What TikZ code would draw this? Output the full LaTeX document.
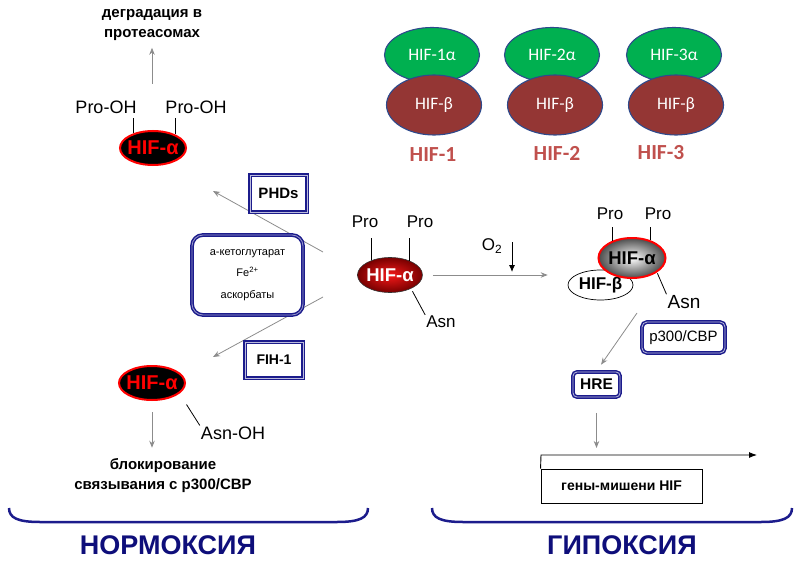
\documentclass[tikz,border=0pt]{standalone}
\usepackage{fontspec}
\setmainfont{Liberation Sans}
\newfontfamily\calfont{Carlito}
\usetikzlibrary{shapes.geometric,arrows.meta,calc}
\definecolor{navy}{HTML}{1C1C8C}
\definecolor{titlenavy}{HTML}{0E0E7A}
\definecolor{hifgreen}{HTML}{00B050}
\definecolor{hifbrown}{HTML}{943634}
\definecolor{hiflabel}{HTML}{C0504D}
\definecolor{ellborder}{HTML}{2E4A8C}
\newcommand\fz[1]{\fontsize{#1}{#1}\selectfont}
\begin{document}
\begin{tikzpicture}[x=1pt,y=-1pt,
  lab/.style={inner sep=1pt, font=\fz{#1}},
  grayarr/.style={draw=black!45, line width=0.8pt, -{Stealth[length=7pt,width=5.5pt]}},
  blkline/.style={draw=black, line width=0.8pt},
  hifl/.style={ellipse, draw=red, line width=2pt, fill=black, minimum width=66pt, minimum height=34pt, inner sep=0pt,
    label={[text=red, font=\bfseries\fz{20}]center:HIF-α}},
  hifc/.style={ellipse, draw=black!80, line width=0.6pt, shading=radial,
    inner color={rgb,255:red,245;green,25;blue,25}, outer color={rgb,255:red,120;green,0;blue,0},
    minimum width=65pt, minimum height=35pt, inner sep=0pt,
    label={[text=white, font=\bfseries\fz{18.5}]center:HIF-α}},
  hifr/.style={ellipse, draw=red, line width=2pt, shading=radial, inner color=white, outer color=black!70,
    minimum width=67pt, minimum height=40pt, inner sep=0pt,
    label={[text=black, font=\bfseries\fz{18.5}]center:HIF-α}},
  hifbeta/.style={ellipse, draw=black, line width=0.7pt, fill=white, minimum width=65pt, minimum height=30pt,
    inner sep=0pt, font=\bfseries\fz{17}},
  dbox/.style={draw=navy, double=navy!30!white, double distance=0.8pt, line width=1.6pt, fill=white, inner sep=1pt},
  rdbox/.style={draw=navy, double=navy!30!white, double distance=0.8pt, line width=1.5pt, fill=white, inner sep=1pt},
  rbox/.style={draw=navy, double=navy!45!white, double distance=0.8pt, line width=1.5pt, fill=white,
    rounded corners=11pt, inner sep=1pt},
  gell/.style={ellipse, draw=ellborder, line width=1.1pt, fill=hifgreen, text=white, font=\calfont\fz{17.5},
    minimum width=95pt, minimum height=55pt, inner sep=0pt},
  bell/.style={ellipse, draw=ellborder, line width=1.1pt, fill=hifbrown, text=white, font=\calfont\fz{17.5},
    minimum width=95pt, minimum height=60pt, inner sep=0pt},
  hiflab/.style={text=hiflabel, font=\calfont\bfseries\fz{21.5}, inner sep=1pt},
  title/.style={text=titlenavy, font=\bfseries\fz{27}, inner sep=1pt},
  brace/.style={draw=navy, line width=2.5pt}
]
\useasboundingbox (0,0) rectangle (800,567);

% ---------- top left: degradation ----------
\node[font=\bfseries\fontsize{15}{20}\selectfont, align=center, inner sep=1pt] (deg) at (152,25) {деградация в\\протеасомах};
\node[hifl] (hifA) at (153,148) {};
\node[lab=18] (po1) at (106,107) {Pro-OH};
\node[lab=18] (po2) at (196,107) {Pro-OH};
\draw[blkline, shorten >=3pt] (hifA.144) -- (hifA.144 |- po1.south);
\draw[blkline, shorten >=3pt] (hifA.32) -- (hifA.32 |- po2.south);
\coordinate (degfrom) at (152,84);
\draw[grayarr, shorten >=6pt] (degfrom) -- (deg.south);

% ---------- left arrows and boxes ----------
\coordinate (phdfrom) at (323,252);
\coordinate (phdto) at (213,191);
\coordinate (fihfrom) at (323,297);
\coordinate (fihto) at (213,357);
\draw[grayarr] (phdfrom) -- (phdto);
\draw[grayarr] (fihfrom) -- (fihto);
\node[dbox, minimum width=57pt, minimum height=37pt, font=\bfseries\fz{15}] (phd) at (278.5,193.5) {PHDs};
\node[rbox, minimum width=111pt, minimum height=80pt, align=center, font=\fontsize{11}{21.5}\selectfont] (cof) at (247.5,275) {а-кетоглутарат\\Fe\textsuperscript{2+}\\аскорбаты};
\node[dbox, minimum width=58pt, minimum height=36pt, font=\bfseries\fz{14}] (fih) at (274,360) {FIH-1};

% ---------- lower left ----------
\node[hifl] (hifB) at (152,383) {};
\node[lab=18] (asnoh) at (233,433) {Asn-OH};
\draw[blkline, shorten <=13pt] (hifB.-21) -- (asnoh.north west);
\node[font=\bfseries\fontsize{15}{20}\selectfont, align=center, inner sep=1pt] (blok) at (163,476) {блокирование\\связывания с p300/CBP};
\draw[grayarr, shorten <=11pt, shorten >=10pt] (hifB.south) -- (hifB.south |- blok.north);

% ---------- center ----------
\node[hifc] (hifC) at (390,275) {};
\node[lab=17] (pc1) at (365,222) {Pro};
\node[lab=17] (pc2) at (420,222) {Pro};
\node[lab=17] (asnC) at (441,322) {Asn};
\draw[blkline, shorten >=9pt] (hifC.141) -- (hifC.141 |- pc1.south);
\draw[blkline, shorten >=9pt] (hifC.37) -- (hifC.37 |- pc2.south);
\draw[blkline, shorten <=3pt] (hifC.-33) -- (asnC.north west);

% ---------- O2 and transition ----------
\node[lab=17] (o2) at (492,246) {O\textsubscript{2}};
\coordinate (o2a) at (512,242);
\draw[line width=0.9pt, -{Latex[length=7pt,width=6pt]}, shorten >=3pt] (o2a) -- (o2a |- hifC.east);

% ---------- right complex ----------
\node[hifbeta] (hb) at (600.5,285) {HIF-β};
\node[hifr] (hifR) at (632,258) {};
\draw[grayarr, shorten <=10pt, shorten >=20pt] (hifC.east) -- (hifC.east -| hb.west);
\node[lab=17] (pr1) at (610,214) {Pro};
\node[lab=17] (pr2) at (658,214) {Pro};
\draw[blkline, shorten >=6pt] (hifR.139) -- (hifR.139 |- pr1.south);
\draw[blkline, shorten >=6pt] (hifR.45) -- (hifR.45 |- pr2.south);
\node[lab=19] (asnR) at (684,302) {Asn};
\draw[blkline, shorten <=1pt] (hifR.-30) -- (asnR.north west);
\node[rdbox, rounded corners=5pt, minimum width=83pt, minimum height=31pt, font=\fz{15}] (p300) at (683.5,337.5) {p300/CBP};
\node[rdbox, rounded corners=4pt, minimum width=47pt, minimum height=25pt, font=\bfseries\fz{15.5}] (hre) at (596.5,384.5) {HRE};
\coordinate (pfrom) at (637,313);
\draw[grayarr, shorten >=8pt] (pfrom) -- (hre.north);

% ---------- target genes ----------
\node[draw, line width=0.9pt, minimum width=161pt, minimum height=34pt, font=\bfseries\fz{14}, inner sep=0pt] (genes) at (621.5,486) {гены-мишени HIF};
\coordinate (tss) at (541,455);
\coordinate (tssend) at (757,455);
\draw[line width=0.9pt, -{Latex[length=8pt,width=6pt]}] (genes.north west) -- (tss) -- (tssend);
\draw[grayarr, shorten <=15pt, shorten >=7pt] (hre.south) -- (hre.south |- tss);

% ---------- top right HIF family ----------
\node[gell] (g1) at (432,55) {HIF-1α};
\node[bell] (b1) at (434,105) {HIF-β};
\node[hiflab] (l1) at (433,155) {HIF-1};
\node[gell] (g2) at (552,55) {HIF-2α};
\node[bell] (b2) at (555,105) {HIF-β};
\node[hiflab] (l2) at (557,153) {HIF-2};
\node[gell] (g3) at (674,55) {HIF-3α};
\node[bell] (b3) at (676,105) {HIF-β};
\node[hiflab] (l3) at (661,153) {HIF-3};

% ---------- braces and titles ----------
\draw[brace] (9,508) .. controls (9,518) and (18,522) .. (40,522) -- (337,522) .. controls (359,522) and (368,518) .. (368,508);
\draw[brace] (432,508) .. controls (432,518) and (441,522) .. (463,522) -- (761,522) .. controls (783,522) and (792,518) .. (792,508);
\node[title] (norm) at (168,545) {НОРМОКСИЯ};
\node[title] (hyp) at (622,545) {ГИПОКСИЯ};
\end{tikzpicture}
\end{document}
